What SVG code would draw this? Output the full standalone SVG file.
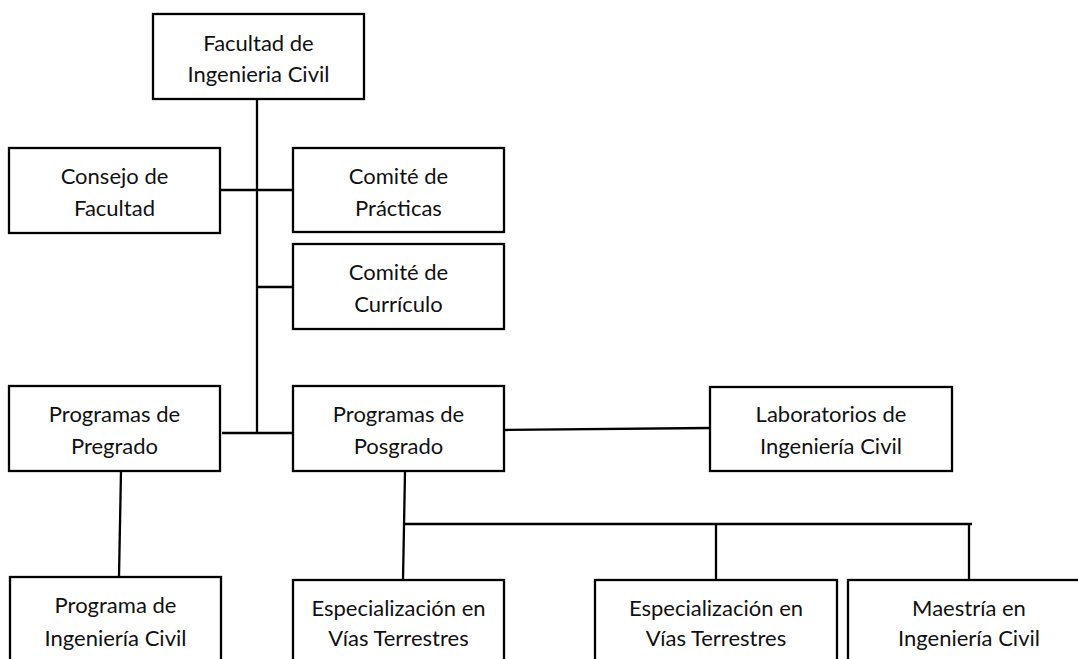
<svg xmlns="http://www.w3.org/2000/svg" width="1078" height="659" viewBox="0 0 1078 659">
<style>
.box{fill:#fff;stroke:#000;stroke-width:2.3}
.ln{stroke:#000;stroke-width:2.3;fill:none}
text{font-family:Lato,"Noto Sans",sans-serif;font-size:22px;fill:#111;text-anchor:middle}
</style>
<rect width="1078" height="659" fill="#fff"/>
<g id="connectors">
<line class="ln" x1="257" y1="99" x2="257" y2="434"/>
<line class="ln" x1="220" y1="190" x2="293" y2="190"/>
<line class="ln" x1="257" y1="287" x2="293" y2="287"/>
<line class="ln" x1="222" y1="433" x2="296" y2="433"/>
<line class="ln" x1="121" y1="471" x2="119" y2="577"/>
<line class="ln" x1="405" y1="472" x2="403" y2="580"/>
<line class="ln" x1="403" y1="524" x2="972" y2="524"/>
<line class="ln" x1="716" y1="524" x2="716" y2="580"/>
<line class="ln" x1="969" y1="524" x2="969" y2="580"/>
<line class="ln" x1="505" y1="430" x2="710" y2="428"/>
</g>
<g id="facultad">
<rect class="box" x="153" y="14" width="211" height="85"/>
<text x="258.5" y="51">Facultad de</text>
<text x="258.5" y="82">Ingenieria Civil</text>
</g>
<g id="consejo">
<rect class="box" x="9" y="148" width="211" height="85"/>
<text x="114.5" y="184">Consejo de</text>
<text x="114.5" y="216">Facultad</text>
</g>
<g id="practicas">
<rect class="box" x="293" y="148" width="211" height="84"/>
<text x="398.5" y="184">Comité de</text>
<text x="398.5" y="216">Prácticas</text>
</g>
<g id="curriculo">
<rect class="box" x="293" y="244" width="211" height="85"/>
<text x="398.5" y="280">Comité de</text>
<text x="398.5" y="312">Currículo</text>
</g>
<g id="pregrado">
<rect class="box" x="9" y="386" width="211" height="85"/>
<text x="114.5" y="422">Programas de</text>
<text x="114.5" y="454">Pregrado</text>
</g>
<g id="posgrado">
<rect class="box" x="293" y="386" width="211" height="85"/>
<text x="398.5" y="422">Programas de</text>
<text x="398.5" y="454">Posgrado</text>
</g>
<g id="laboratorios">
<rect class="box" x="710" y="387" width="242" height="84"/>
<text x="831" y="422">Laboratorios de</text>
<text x="831" y="454">Ingeniería Civil</text>
</g>
<g id="programa-ic">
<rect class="box" x="10" y="577" width="211" height="100"/>
<text x="115.5" y="613">Programa de</text>
<text x="115.5" y="646">Ingeniería Civil</text>
</g>
<g id="espec1">
<rect class="box" x="293" y="580" width="211" height="100"/>
<text x="398.5" y="616">Especialización en</text>
<text x="398.5" y="646">Vías Terrestres</text>
</g>
<g id="espec2">
<rect class="box" x="595" y="580" width="242" height="100"/>
<text x="716" y="616">Especialización en</text>
<text x="716" y="646">Vías Terrestres</text>
</g>
<g id="maestria">
<rect class="box" x="848" y="580" width="242" height="100"/>
<text x="969" y="616">Maestría en</text>
<text x="969" y="646">Ingeniería Civil</text>
</g>
</svg>
